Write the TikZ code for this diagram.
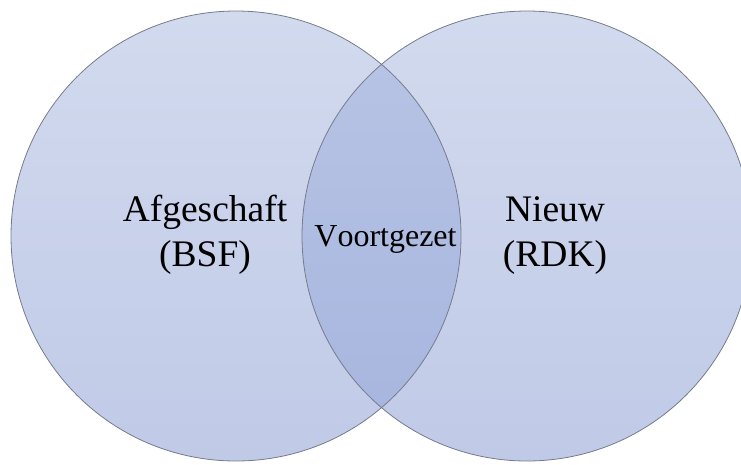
\documentclass[tikz,border=0pt]{standalone}
\usepackage{fontspec}
\setmainfont{Liberation Serif}[Kerning=Off]
\begin{document}
\definecolor{setTop}{HTML}{D2DAEE}
\definecolor{setBot}{HTML}{C0CAE7}
\definecolor{lensTop}{HTML}{B9C5E5}
\definecolor{lensBot}{HTML}{A6B4DE}
\definecolor{rim}{HTML}{767B8C}
\begin{tikzpicture}[
    x=1pt, y=-1pt,
    set/.style={
        circle, minimum size=450pt, inner sep=0pt,
        top color=setTop, bottom color=setBot
    },
    bigtext/.style={
        align=center, anchor=base, font=\fontsize{37.5}{45}\selectfont
    },
    smalltext/.style={
        anchor=base, font=\fontsize{32}{38}\selectfont
    }
]
\useasboundingbox (0,0) rectangle (741,464);

% Sets
\node[set] (bsf) at (236,236) {};
\node[set] (rdk) at (527,236) {};

% Overlap
\begin{scope}
    \clip (bsf.center) circle (225pt);
    \shade[top color=lensTop, bottom color=lensBot] (rdk.center) circle (225pt);
\end{scope}

% Outlines
\draw[rim, line width=0.8pt] (bsf.center) circle (225pt);
\draw[rim, line width=0.8pt] (rdk.center) circle (225pt);

% Labels
\node[bigtext] (old) at (205,266) {Afgeschaft\\(BSF)};
\node[bigtext] (new) at (555,266) {Nieuw\\(RDK)};
\node[smalltext] (kept) at (385.5,246) {Voortgezet};

\end{tikzpicture}
\end{document}
